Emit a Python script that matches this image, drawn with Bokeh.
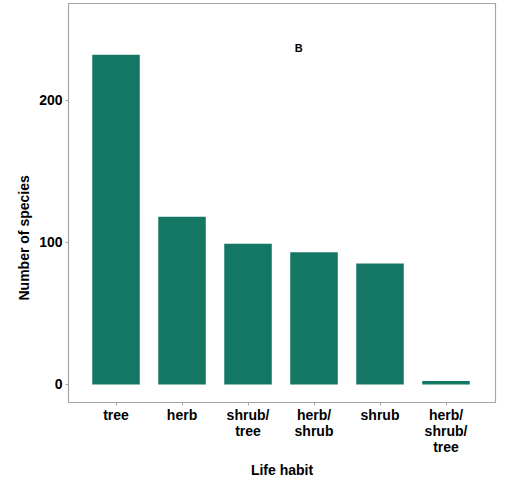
from bokeh.plotting import figure
from bokeh.models import FixedTicker, Range1d, Label, ColumnDataSource, Title
from bokeh.embed import file_html
from bokeh.resources import INLINE

categories = ["tree", "herb", "shrub/\ntree", "herb/\nshrub", "shrub", "herb/\nshrub/\ntree"]
counts = [232, 118, 99, 93, 85, 2.5]
y_ticks = [0, 100, 200]

BAR_COLOR = "#137764"
GREY = "#a6a6a6"
FONT = "Liberation Sans"

xs = list(range(1, len(categories) + 1))
src = ColumnDataSource(dict(x=xs, top=counts, cat=categories))

p = figure(width=512, height=493, output_backend="svg", toolbar_location=None,
           x_range=Range1d(0.28, 6.75), y_range=Range1d(-12.7, 268),
           min_border_left=68, min_border_top=3, min_border_right=17, min_border_bottom=91)

p.vbar(x="x", top="top", bottom=0, width=0.72, source=src, fill_color=BAR_COLOR, line_color=None)

p.xgrid.visible = False
p.ygrid.visible = False
p.background_fill_color = "white"
p.border_fill_color = "white"
p.outline_line_color = GREY
p.outline_line_width = 1.2

p.xaxis.ticker = FixedTicker(ticks=xs)
p.xaxis.major_label_overrides = {x: c for x, c in zip(xs, categories)}
p.yaxis.ticker = FixedTicker(ticks=y_ticks)

for ax in (p.xaxis, p.yaxis):
    ax.axis_line_color = GREY
    ax.major_tick_line_color = GREY
    ax.minor_tick_line_color = None
    ax.major_tick_in = 0
    ax.major_tick_out = 3
    ax.major_label_text_font = FONT
    ax.major_label_text_font_style = "bold"
    ax.major_label_text_font_size = "14px"
    ax.major_label_text_color = "black"

p.xaxis.major_label_text_line_height = 1.0
p.xaxis.major_label_standoff = 1
p.yaxis.major_label_standoff = 3

# axis titles as side titles (slightly off-centre, like the reference)
p.add_layout(Title(text="Life habit", align="center", offset=-12, standoff=4,
                   text_font=FONT, text_font_style="bold", text_font_size="14px",
                   text_color="black"), "below")
p.add_layout(Title(text="Number of species", align="left", offset=102, standoff=9,
                   text_font=FONT, text_font_style="bold", text_font_size="14px",
                   text_color="black"), "left")

p.add_layout(Label(x=3.77, y=237, text="B", text_font=FONT, text_font_style="bold",
                   text_font_size="11px", text_align="center", text_baseline="middle",
                   text_color="black"))

open("out.html", "w").write(file_html(p, INLINE))
